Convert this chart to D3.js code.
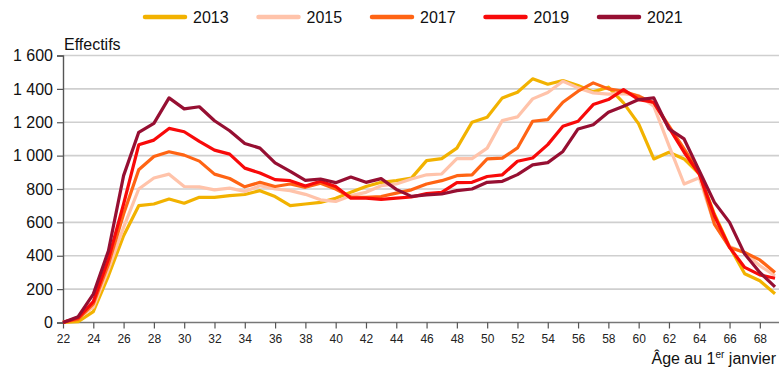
<!DOCTYPE html>
<html lang="fr">
<head>
<meta charset="utf-8">
<script src="https://cdn.jsdelivr.net/npm/d3@7"></script>
<style>
  html, body { margin: 0; padding: 0; background: #fff; }
  svg { display: block; font-family: "Liberation Sans", Arial, sans-serif; }
</style>
</head>
<body>
<svg id="chart" width="779" height="372"></svg>
<script>
// Effectifs par âge au 1er janvier, pour cinq années
const ages = d3.range(22, 70);
const years = ["2013", "2015", "2017", "2019", "2021"];
const colors = ["#f2b200", "#ffc3aa", "#ff6414", "#f80a0a", "#960f32"];
const yTicks = [0, 200, 400, 600, 800, 1000, 1200, 1400, 1600];
const xTicks = d3.range(22, 70, 2);

const v2013 = [0, 5, 65, 280, 520, 700, 710, 740, 715, 750, 750, 760, 767, 790, 755, 700, 710, 720, 745, 780, 815, 840, 850, 865, 970, 982, 1045, 1200, 1230, 1346, 1380, 1460, 1428, 1450, 1420, 1382, 1410, 1316, 1190, 980, 1020, 980, 890, 650, 455, 292, 250, 172];
const v2015 = [3, 25, 92, 320, 570, 800, 866, 889, 815, 813, 795, 805, 785, 820, 800, 790, 768, 735, 725, 760, 780, 820, 830, 860, 885, 890, 982, 982, 1045, 1210, 1232, 1340, 1378, 1446, 1406, 1376, 1368, 1372, 1360, 1297, 1060, 830, 868, 590, 455, 420, 340, 280];
const v2017 = [2, 20, 112, 350, 650, 915, 995, 1023, 1003, 967, 889, 863, 813, 840, 815, 830, 810, 835, 800, 752, 750, 755, 775, 795, 830, 850, 880, 885, 980, 985, 1046, 1206, 1216, 1320, 1386, 1436, 1400, 1386, 1356, 1316, 1178, 1040, 900, 590, 450, 420, 375, 300];
const v2019 = [0, 28, 125, 380, 710, 1065, 1093, 1163, 1143, 1085, 1033, 1009, 925, 896, 856, 850, 818, 846, 815, 745, 745, 738, 745, 752, 772, 780, 838, 840, 875, 885, 966, 986, 1066, 1176, 1206, 1306, 1336, 1396, 1336, 1320, 1168, 1020, 890, 640, 450, 330, 285, 265];
const v2021 = [0, 35, 170, 430, 880, 1140, 1193, 1346, 1280, 1293, 1209, 1149, 1073, 1045, 956, 906, 852, 860, 838, 872, 840, 862, 798, 756, 765, 770, 790, 800, 840, 846, 886, 945, 958, 1025, 1160, 1185, 1260, 1296, 1336, 1346, 1160, 1100, 910, 720, 600, 410, 300, 213];
const seriesValues = [v2013, v2015, v2017, v2019, v2021];

const svg = d3.select("#chart");
const x = d3.scaleLinear().domain([22, 69]).range([63, 775]);
const y = d3.scaleLinear().domain([0, 1600]).range([322.5, 55.5]);

const frFormat = d3.formatLocale({ decimal: ",", thousands: "\u00a0", grouping: [3], currency: ["", " €"] }).format(",d");

// horizontal grid
svg.append("g")
  .selectAll("line")
  .data(yTicks.filter(d => d > 0))
  .join("line")
  .attr("x1", 63).attr("x2", 779)
  .attr("y1", d => y(d)).attr("y2", d => y(d))
  .attr("stroke", "#cfcfcf").attr("stroke-width", 1.6);

// y axis
const yAxis = svg.append("g")
  .attr("transform", "translate(63,0)")
  .call(d3.axisLeft(y).tickValues(yTicks).tickFormat(frFormat).tickSize(6).tickPadding(4));
yAxis.select(".domain").attr("stroke", "#555").attr("stroke-width", 1.4);
yAxis.selectAll(".tick line").attr("stroke", "#555").attr("stroke-width", 1.2);
yAxis.selectAll(".tick text").attr("font-size", 16).attr("fill", "#111")
  .attr("font-family", "'Liberation Sans', Arial, sans-serif");

// x axis
const xAxis = svg.append("g")
  .attr("transform", `translate(0,${y(0)})`)
  .call(d3.axisBottom(x).tickValues(xTicks).tickFormat(d3.format("d")).tickSize(6).tickPadding(6));
xAxis.select(".domain").attr("d", `M63,0H779`).attr("stroke", "#777").attr("stroke-width", 1.4);
xAxis.selectAll(".tick line").attr("stroke", "#555").attr("stroke-width", 1.2);
xAxis.selectAll(".tick text").attr("font-size", 12).attr("fill", "#222")
  .attr("font-family", "'Liberation Sans', Arial, sans-serif");

// axis titles
svg.append("text")
  .attr("x", 64).attr("y", 50)
  .attr("font-size", 16).attr("fill", "#111")
  .text("Effectifs");

const xt = svg.append("text")
  .attr("x", 776).attr("y", 364)
  .attr("text-anchor", "end")
  .attr("font-size", 16).attr("fill", "#111");
xt.append("tspan").text("Âge au 1");
xt.append("tspan").attr("font-size", 10).attr("dy", -6).text("er");
xt.append("tspan").attr("dy", 6).text(" janvier");

// series lines
const line = d3.line()
  .x((d, i) => x(ages[i]))
  .y(d => y(d));

svg.append("g")
  .selectAll("path")
  .data(seriesValues)
  .join("path")
  .attr("d", d => line(d))
  .attr("fill", "none")
  .attr("stroke", (d, i) => colors[i])
  .attr("stroke-width", 3.2)
  .attr("stroke-linejoin", "round");

// legend
const legend = svg.append("g");
const item = legend.selectAll("g")
  .data(years)
  .join("g")
  .attr("transform", (d, i) => `translate(${145 + i * 113.5},17)`);
item.append("line")
  .attr("x1", 0).attr("x2", 40).attr("y1", 0).attr("y2", 0)
  .attr("stroke", (d, i) => colors[i])
  .attr("stroke-width", 4.5)
  .attr("stroke-linecap", "round");
item.append("text")
  .attr("x", 48).attr("y", 6)
  .attr("font-size", 16).attr("fill", "#111")
  .text(d => d);
</script>
</body>
</html>
